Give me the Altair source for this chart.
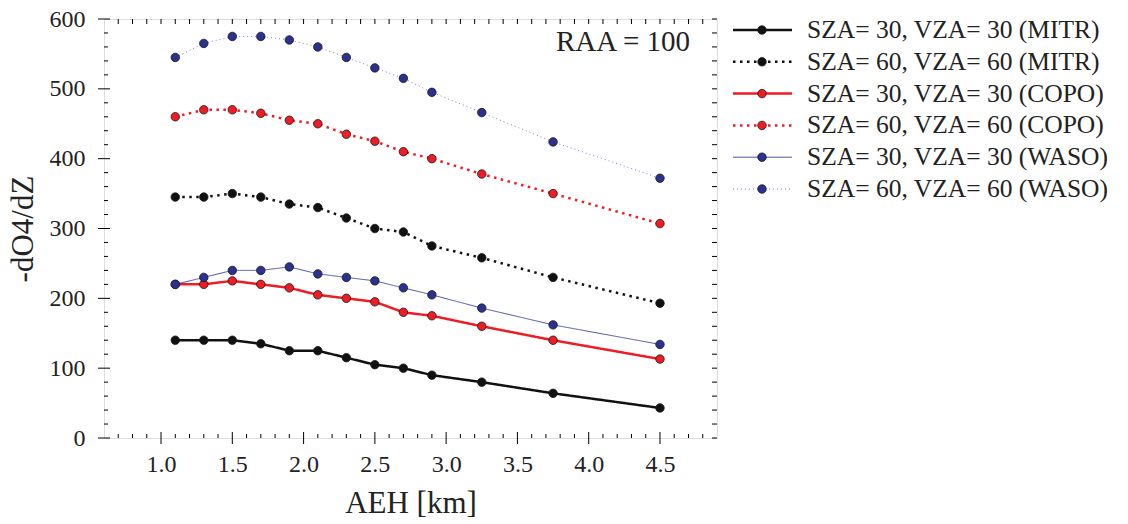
import altair as alt
import pandas as pd

# ---------------- data ----------------
aeh = [1.1, 1.3, 1.5, 1.7, 1.9, 2.1, 2.3, 2.5, 2.7, 2.9, 3.25, 3.75, 4.5]

mitr_30 = [140, 140, 140, 135, 125, 125, 115, 105, 100, 90, 80, 64, 43]
mitr_60 = [345, 345, 350, 345, 335, 330, 315, 300, 295, 275, 258, 230, 193]
copo_30 = [220, 220, 225, 220, 215, 205, 200, 195, 180, 175, 160, 140, 113]
copo_60 = [460, 470, 470, 465, 455, 450, 435, 425, 410, 400, 378, 350, 307]
waso_30 = [220, 230, 240, 240, 245, 235, 230, 225, 215, 205, 186, 162, 134]
waso_60 = [545, 565, 575, 575, 570, 560, 545, 530, 515, 495, 466, 424, 372]

series_names = [
    "SZA= 30, VZA= 30 (MITR)",
    "SZA= 60, VZA= 60 (MITR)",
    "SZA= 30, VZA= 30 (COPO)",
    "SZA= 60, VZA= 60 (COPO)",
    "SZA= 30, VZA= 30 (WASO)",
    "SZA= 60, VZA= 60 (WASO)",
]
series_values = [mitr_30, mitr_60, copo_30, copo_60, waso_30, waso_60]

x_major = [1.0, 1.5, 2.0, 2.5, 3.0, 3.5, 4.0, 4.5]
x_minor = [0.7, 0.8, 0.9, 1.1, 1.2, 1.3, 1.4, 1.6, 1.7, 1.8, 1.9, 2.1, 2.2, 2.3, 2.4,
           2.6, 2.7, 2.8, 2.9, 3.1, 3.2, 3.3, 3.4, 3.6, 3.7, 3.8, 3.9, 4.1, 4.2, 4.3,
           4.4, 4.6, 4.7, 4.8]
y_major = [0, 100, 200, 300, 400, 500, 600]
y_minor = [20, 40, 60, 80, 120, 140, 160, 180, 220, 240, 260, 280, 320, 340, 360, 380,
           420, 440, 460, 480, 520, 540, 560, 580]

# ---------------- styles ----------------
line_colors = ["#111111", "#111111", "#ee1c24", "#ee1c24", "#3a3d9c", "#7070cc"]
fill_colors = ["#111111", "#111111", "#ee1c24", "#ee1c24", "#2a3190", "#2a3190"]
dashes = [[1, 0], [2.5, 4.5], [1, 0], [2.5, 4.5], [1, 0], [1, 3]]
widths = [2.5, 2.5, 2.5, 2.5, 0.9, 0.9]

FONT = "Liberation Serif"
W, H = 613, 419

rows = []
for name, vals in zip(series_names, series_values):
    for xv, yv in zip(aeh, vals):
        rows.append({"series": name, "aeh": xv, "val": yv})
df = pd.DataFrame(rows)

xscale = alt.Scale(domain=[0.6, 4.9], nice=False, zero=False)
yscale = alt.Scale(domain=[0, 600], nice=False, zero=False)

fill_enc = alt.Fill("series:N", scale=alt.Scale(domain=series_names, range=fill_colors), legend=None)

x_enc = alt.X(
    "aeh:Q", scale=xscale,
    axis=alt.Axis(values=x_major, format=".1f", title="AEH [km]", labelPadding=14, titlePadding=12),
)
y_enc = alt.Y(
    "val:Q", scale=yscale,
    axis=alt.Axis(values=y_major, title="-dO4/dZ", labelPadding=19, titlePadding=10),
)

base = alt.Chart(df)
line_layers = []
for i, name in enumerate(series_names):
    enc = dict(x=x_enc, y=y_enc) if i == 0 else dict(x="aeh:Q", y="val:Q")
    line_layers.append(
        base.transform_filter(alt.datum.series == name).mark_line(
            clip=False, color=line_colors[i], strokeWidth=widths[i], strokeDash=dashes[i]
        ).encode(**enc)
    )
points = base.mark_circle(size=72, opacity=1, stroke="#1a1a1a", strokeWidth=0.8).encode(
    x="aeh:Q", y="val:Q", fill=fill_enc,
)

# tick marks
tick_style = dict(color="black", strokeWidth=1)
xM = alt.Chart(pd.DataFrame({"aeh": x_major}))
xm = alt.Chart(pd.DataFrame({"aeh": x_minor}))
yM = alt.Chart(pd.DataFrame({"val": y_major}))
ym = alt.Chart(pd.DataFrame({"val": y_minor}))
xall = alt.Chart(pd.DataFrame({"aeh": sorted(x_major + x_minor)}))
yall = alt.Chart(pd.DataFrame({"val": sorted(y_major + y_minor)}))

ticks = [
    xM.mark_rule(**tick_style).encode(x="aeh:Q", y=alt.value(H - 6), y2=alt.value(H + 6)),
    xm.mark_rule(**tick_style).encode(x="aeh:Q", y=alt.value(H - 4), y2=alt.value(H)),
    xall.mark_rule(**tick_style).encode(x="aeh:Q", y=alt.value(0), y2=alt.value(5)),
    yM.mark_rule(**tick_style).encode(y="val:Q", x=alt.value(-6), x2=alt.value(6)),
    ym.mark_rule(**tick_style).encode(y="val:Q", x=alt.value(0), x2=alt.value(4)),
    yall.mark_rule(**tick_style).encode(y="val:Q", x=alt.value(W - 5), x2=alt.value(W)),
]

raa = alt.Chart(pd.DataFrame({"t": ["RAA = 100"]})).mark_text(
    font=FONT, fontSize=29, align="right", baseline="middle", color="#222"
).encode(x=alt.value(586), y=alt.value(23), text="t:N")

main = alt.layer(*line_layers, points, *ticks, raa)

# legend drawn to the right of the plot
leg_df = pd.DataFrame({"series": series_names})
leg_y = alt.Y("series:N", scale=alt.Scale(type="point", domain=series_names, range=[11, 170], padding=0),
              axis=None)
leg_base = alt.Chart(leg_df)
leg_lines = []
for i, name in enumerate(series_names):
    leg_lines.append(
        leg_base.transform_filter(alt.datum.series == name).mark_rule(
            color=line_colors[i], strokeWidth=widths[i], strokeDash=dashes[i]
        ).encode(y=leg_y, x=alt.value(629), x2=alt.value(688))
    )
leg_pt = leg_base.mark_circle(size=72, opacity=1, stroke="#1a1a1a", strokeWidth=0.8).encode(
    y=leg_y, x=alt.value(658), fill=fill_enc,
)
leg_txt = leg_base.mark_text(font=FONT, fontSize=25.5, align="left", baseline="middle", color="#222").encode(
    y=leg_y, x=alt.value(703), text="series:N",
)
legend = alt.layer(*leg_lines, leg_pt, leg_txt)

chart = alt.layer(main, legend).resolve_scale(y="independent").properties(
    width=W, height=H,
    autosize=alt.AutoSizeParams(type="none"),
    padding={"left": 104, "top": 19, "right": 1128 - 104 - W, "bottom": 524 - 19 - H},
).configure_view(stroke="black", strokeWidth=1.2).configure(
    background="white", font=FONT
).configure_axis(
    ticks=False, domain=False, grid=False, labelFont=FONT, labelFontSize=24, labelColor="#222",
    labelFlush=False, titleFont=FONT, titleFontSize=31, titleFontWeight="normal", titleColor="#222",
)

chart.save("out.html", embed_options={"renderer": "svg", "actions": False})
